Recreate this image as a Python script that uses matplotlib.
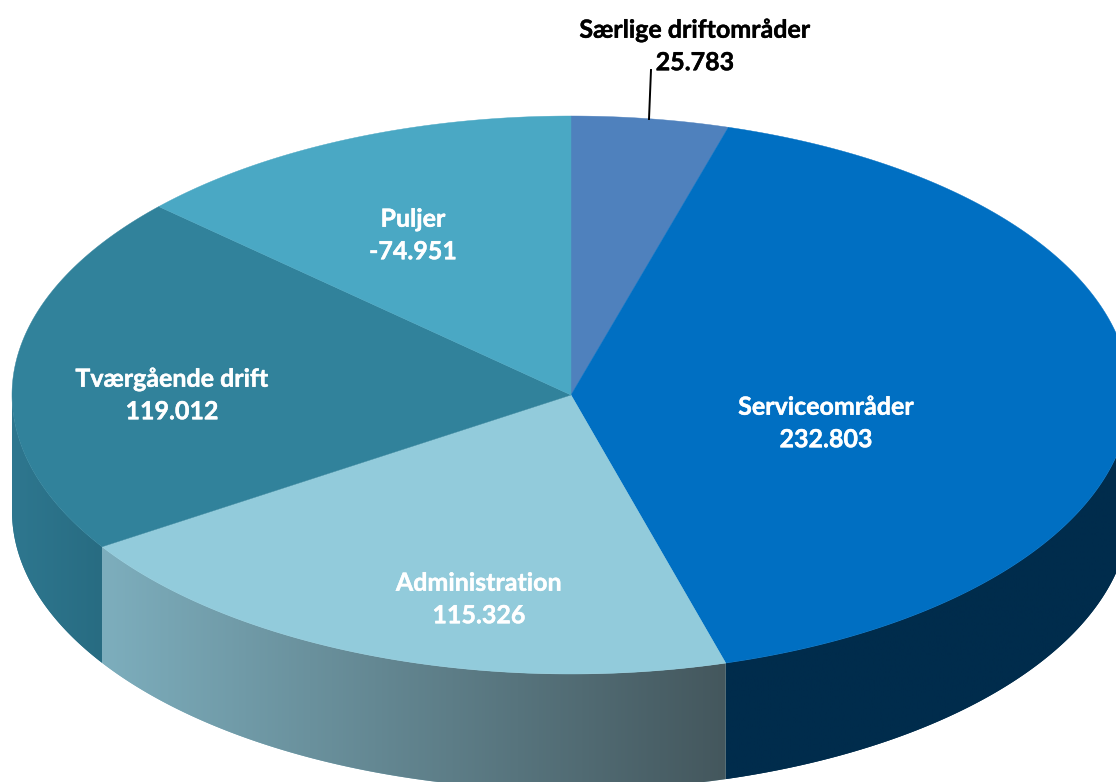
import matplotlib
matplotlib.use('Agg')
import matplotlib.pyplot as plt
import matplotlib.colors as mcolors
import matplotlib.patheffects as pe
from matplotlib.patches import Polygon
import numpy as np

# data
labels = ["Særlige driftområder", "Serviceområder", "Administration", "Tværgående drift", "Puljer"]
values = [25.783, 232.803, 115.326, 119.012, -74.951]

top_colors = ['#4F81BD', '#006FC2', '#92CBDB', '#31829B', '#4AA8C4']
# side colours: left end and right end of the gradient
side_left = ['#3A5F8C', '#002C4C', '#7DAEBD', '#2E778F', '#367F95']
side_right = ['#3A5F8C', '#002C4C', '#44575D', '#286C82', '#367F95']

label_pos = [(695, 46.5), (826, 423.5), (479, 599.5), (172, 395.5), (413, 235.5)]
label_col = ['black', 'white', 'white', 'white', 'white']

# pie geometry in pixels
cx, cy = 571, 395
rx, ry = 559, 279
depth = 116


def arc(a, b, dy=0):
    t = np.radians(np.linspace(a, b, 200))
    return np.column_stack([cx + rx * np.sin(t), cy - ry * np.cos(t) + dy])


fig = plt.figure(figsize=(11.16, 7.82), dpi=100)
ax = fig.add_axes([0, 0, 1, 1])

sizes = np.abs(values)
edges = np.concatenate([[0], np.cumsum(sizes) / sizes.sum() * 360])

# sides first, only the front half of the pie can be seen
for i in range(len(values)):
    a, b = max(edges[i], 90), min(edges[i + 1], 270)
    if a >= b:
        continue
    pts = np.vstack([arc(a, b), arc(b, a, depth)])
    poly = Polygon(pts, closed=True, facecolor=side_left[i], edgecolor='none')
    ax.add_patch(poly)
    x0, x1 = pts[:, 0].min(), pts[:, 0].max()
    left = np.array(mcolors.to_rgb(side_left[i]))
    right = np.array(mcolors.to_rgb(side_right[i]))
    grad = np.linspace(left, right, 256)[np.newaxis, :, :]
    im = ax.imshow(grad, extent=(x0, x1, pts[:, 1].max(), pts[:, 1].min()),
                   aspect='auto', interpolation='bilinear', zorder=2)
    im.set_clip_path(poly)

# top faces
for i in range(len(values)):
    pts = np.vstack([[cx, cy], arc(edges[i], edges[i + 1])])
    ax.add_patch(Polygon(pts, closed=True, facecolor=top_colors[i],
                         edgecolor=top_colors[i], linewidth=0.3, zorder=3))

# leader line for the small slice
ax.plot([651, 649], [70, 119], color='black', lw=1.4, zorder=4)

for i in range(len(values)):
    ax.text(label_pos[i][0], label_pos[i][1], f"{labels[i]}\n{values[i]:.3f}",
            ha='center', va='center', color=label_col[i], family='Lato',
            fontweight='bold', fontsize=18, linespacing=1.5, zorder=5,
            path_effects=[pe.withStroke(linewidth=0.3, foreground=label_col[i])])

ax.set_xlim(0, 1116)
ax.set_ylim(782, 0)
ax.axis('off')

fig.savefig('out.png', dpi=100)
plt.close(fig)
